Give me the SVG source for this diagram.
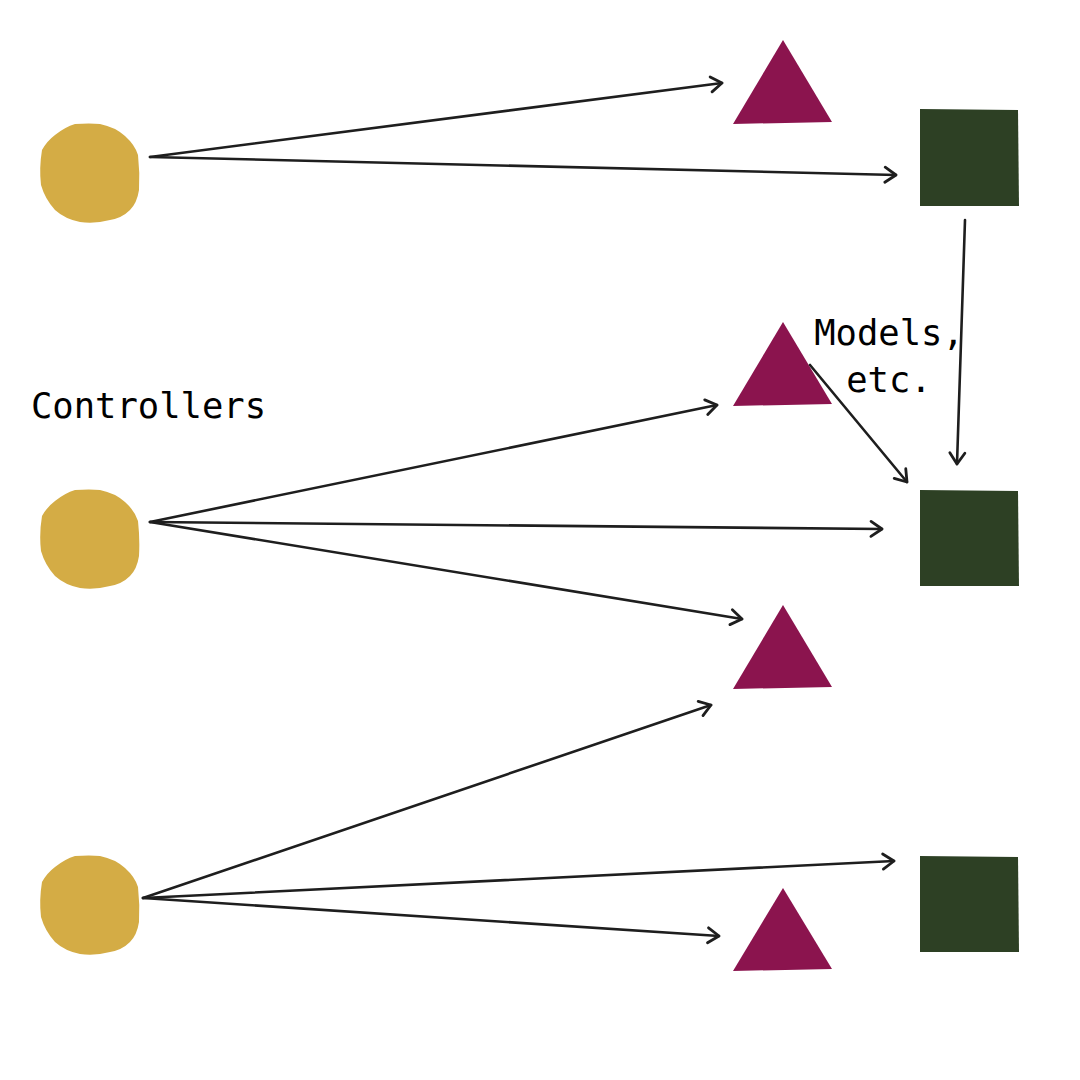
<svg xmlns="http://www.w3.org/2000/svg" xmlns:xlink="http://www.w3.org/1999/xlink" width="1080" height="1080" viewBox="0 0 1080 1080">
<style>
.blob{fill:#D4AC45}
.tri{fill:#8B144E}
.sq{fill:#2D4024}
.edge{fill:none;stroke:#1e1e1e;stroke-width:2.6;stroke-linecap:round;marker-end:url(#arr)}
.lbl{font-family:"DejaVu Sans Mono","Liberation Mono",monospace;font-size:35.5px;fill:#000}
</style>
<defs>
<marker id="arr" viewBox="0 0 20 20" refX="17" refY="10" markerWidth="20" markerHeight="20" markerUnits="userSpaceOnUse" orient="auto">
<path d="M6 2.5 L17 10 L6 17.5" fill="none" stroke="#1e1e1e" stroke-width="2.8" stroke-linecap="round" stroke-linejoin="round"/>
</marker>
<path id="blobShape" d="M-15,-49 Q0,-50 10,-49 Q25,-46 35,-37 Q45,-28 48,-18 Q50,0 49,17 Q47,30 40,37 Q32,45 20,47 Q5,51 -10,49 Q-25,46 -35,37 Q-45,26 -49,12 Q-51,-5 -48,-23 Q-43,-32 -35,-38 Q-25,-46 -15,-49 Z"/>
</defs>
<g id="controller1"><use xlink:href="#blobShape" class="blob" transform="translate(90,173)"/></g>
<g id="controller2"><use xlink:href="#blobShape" class="blob" transform="translate(90,539)"/></g>
<g id="controller3"><use xlink:href="#blobShape" class="blob" transform="translate(90,905)"/></g>
<g id="tri1"><polygon class="tri" points="783,40 832,122 733,124"/></g>
<g id="tri2"><polygon class="tri" points="783,322 832,404 733,406"/></g>
<g id="tri3"><polygon class="tri" points="783,605 832,687 733,689"/></g>
<g id="tri4"><polygon class="tri" points="783,888 832,969 733,971"/></g>
<g id="model1"><polygon class="sq" points="920,109 1018,110 1019,206 920,206"/></g>
<g id="model2"><polygon class="sq" points="920,490 1018,491 1019,586 920,586"/></g>
<g id="model3"><polygon class="sq" points="920,856 1018,857 1019,952 920,952"/></g>
<g id="labels">
<text class="lbl" x="31" y="418">Controllers</text>
<text class="lbl" x="889" y="345" text-anchor="middle">Models,</text>
<text class="lbl" x="889" y="392" text-anchor="middle">etc.</text>
</g>
<g id="connectors">
<path class="edge" d="M150,157 L722,83"/>
<path class="edge" d="M150,157 L896,175"/>
<path class="edge" d="M965,220 L957,464"/>
<path class="edge" d="M810,365 L907,482"/>
<path class="edge" d="M150,522 L717,405"/>
<path class="edge" d="M150,522 L882,529"/>
<path class="edge" d="M150,522 L742,619"/>
<path class="edge" d="M143,898 L711,705"/>
<path class="edge" d="M143,898 L894,861"/>
<path class="edge" d="M143,898 L719,936"/>
</g>
</svg>
